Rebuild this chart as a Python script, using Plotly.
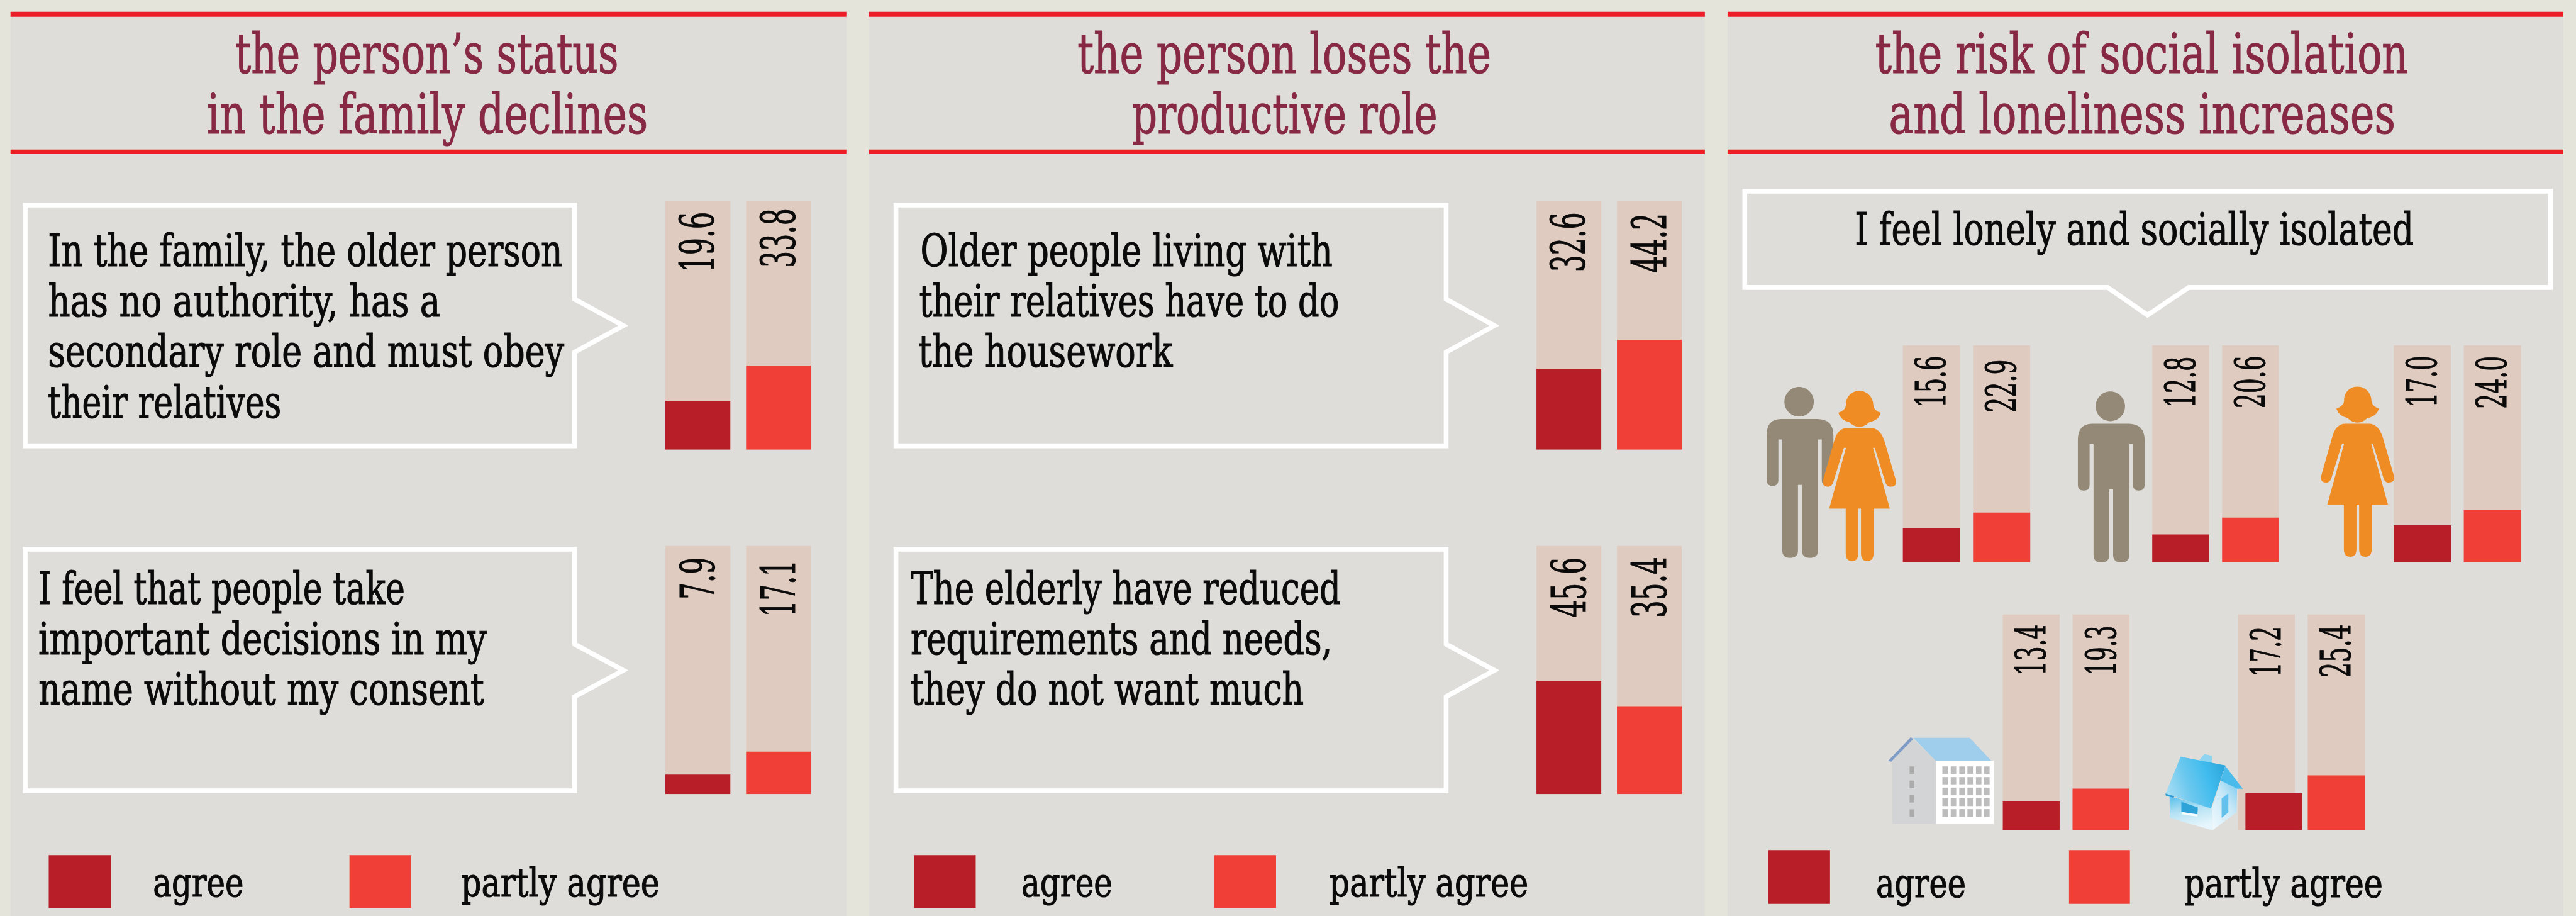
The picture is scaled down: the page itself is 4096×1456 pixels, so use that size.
import base64
import json
import re

import plotly.graph_objects as go

# ---- survey values, percent of respondents ----
categories = ["agree", "partly agree"]
status_authority = [19.6, 33.8]
status_decisions = [7.9, 17.1]
role_housework = [32.6, 44.2]
role_needs = [45.6, 35.4]
lonely_all = [15.6, 22.9]
lonely_men = [12.8, 20.6]
lonely_women = [17.0, 24.0]
lonely_flats = [13.4, 19.3]
lonely_houses = [17.2, 25.4]
scale_max = 100

panel_titles = [
    ["the person’s status", "in the family declines"],
    ["the person loses the", "productive role"],
    ["the risk of social isolation", "and loneliness increases"],
]

# ---- page geometry, in design units of a 6133 x 2180 artboard ----
W, H = 6133.0, 2180.0
WIN_W, WIN_H = 4096, 1456
S = WIN_W / W

OUTER = "#E4E4DB"
PANEL = "#DEDDD9"
RED_RULE = "#EE1C27"
TRACK = "#E0CBC0"
DARK = "#B81E27"
LIGHT = "#F03F37"
TITLE = "#872845"
INK = "#0A0A0A"
MAN = "#948977"
WOMAN = "#F08C24"
FONT = "DejaVu Serif Condensed, DejaVu Serif, serif"
DESCENT = 0.285


def fx(x):
    return x / W


def fy(y):
    return 1 - y / H


shapes = []
annotations = []
text_lengths = []


def rect(x0, y0, x1, y1, color, layer="below"):
    shapes.append(dict(type="rect", xref="paper", yref="paper", x0=fx(x0), x1=fx(x1),
                       y0=fy(y0), y1=fy(y1), fillcolor=color, line_width=0, layer=layer))


def poly(points, fill=None, line=None, width=0, layer="below"):
    d = "M" + " L".join(f"{fx(x):.6f},{fy(y):.6f}" for x, y in points) + " Z"
    shapes.append(dict(type="path", xref="paper", yref="paper", path=d,
                       fillcolor=fill if fill else "rgba(0,0,0,0)",
                       line=dict(color=line if line else "rgba(0,0,0,0)", width=width),
                       layer=layer))


def glyph(d, ox, oy, color, k=1 / 3):
    """Place an outline drawn in local units at design position (ox, oy)."""
    def conv(m):
        return f"{fx(ox + float(m[1]) * k):.6f},{fy(oy + float(m[2]) * k):.6f}"
    shapes.append(dict(type="path", xref="paper", yref="paper",
                       path=re.sub(r"(-?\d+(?:\.\d+)?),(-?\d+(?:\.\d+)?)", conv, d),
                       fillcolor=color, line_width=0, layer="above"))


def line_text(text, x0, x1, baseline, size, color=INK):
    """One line of text fitted between x0 and x1 with its baseline at the given height."""
    annotations.append(dict(
        text=text, xref="paper", yref="paper", x=fx((x0 + x1) / 2),
        y=fy(baseline + DESCENT * size / S), xanchor="center", yanchor="bottom",
        align="center", showarrow=False, borderpad=0, borderwidth=0,
        font=dict(family=FONT, size=size, color=color)))
    text_lengths.append((x1 - x0) * S)


# ---- panels, rules and headings ----
panel_spans = [(25, 2015), (2069, 4059), (4113, 6103)]
heading_spans = [
    [(560, 1473), (493, 1543)],
    [(2565, 3550), (2695, 3422)],
    [(4465, 5734), (4497, 5703)],
]
for (x0, x1), lines, spans in zip(panel_spans, panel_titles, heading_spans):
    rect(x0, 28, x1, H, PANEL)
    rect(x0, 28, x1, 40, RED_RULE)
    rect(x0, 356, x1, 367, RED_RULE)
    for text, (a, b), base in zip(lines, spans, (167, 311)):
        line_text(text, a, b, base, 88, TITLE)


# ---- speech bubbles ----
def bubble_right(x0, x1, tip, y0, y1, n0, n1):
    nm = (n0 + n1) / 2
    poly([(x0, y0), (x1, y0), (x1, n0), (tip, nm), (x1, n1), (x1, y1), (x0, y1)],
         line="#FFFFFF", width=7.6)


bubble_right(60, 1368, 1484, 488, 1061, 712, 838)
bubble_right(60, 1368, 1484, 1307, 1882, 1533, 1658)
bubble_right(2133, 3443, 3558, 488, 1061, 712, 838)
bubble_right(2133, 3443, 3558, 1307, 1882, 1533, 1658)
poly([(4154, 455), (6072, 455), (6072, 684), (5211, 684), (5113, 750), (5018, 684), (4154, 684)],
     line="#FFFFFF", width=7.6)

bubble_lines = [
    ("In the family, the older person", 114, 1339, 628),
    ("has no authority, has a", 114, 1048, 748),
    ("secondary role and must obey", 114, 1343, 868),
    ("their relatives", 114, 670, 989),
    ("I feel that people take", 91, 964, 1432),
    ("important decisions in my", 91, 1158, 1552),
    ("name without my consent", 91, 1152, 1672),
    ("Older people living with", 2191, 3172, 628),
    ("their relatives have to do", 2188, 3188, 748),
    ("the housework", 2188, 2793, 868),
    ("The elderly have reduced", 2168, 3192, 1432),
    ("requirements and needs,", 2168, 3172, 1552),
    ("they do not want much", 2168, 3105, 1672),
    ("I feel lonely and socially isolated", 4416, 5747, 578),
]
for text, a, b, base in bubble_lines:
    line_text(text, a, b, base, 71)

# ---- keys ----
key_rows = [
    (2035, 2161, 2129, (116, 264, 364, 580), (832, 979, 1098, 1571)),
    (2035, 2161, 2129, (2176, 2323, 2432, 2649), (2891, 3038, 3165, 3639)),
    (2023, 2151, 2130, (4210, 4357, 4467, 4681), (4926, 5071, 5200, 5673)),
]
for y0, y1, base, first, second in key_rows:
    for (a, b, ta, tb), color, label in zip((first, second), (DARK, LIGHT), categories):
        rect(a, y0, b, y1, color)
        line_text(label, ta, tb, base, 64)

# ---- pictograms ----
MAN_BODY = ("M150,292 L410,292 Q525,292 525,410 L525,730 Q525,770 483,770 Q442,770 442,730 "
            "L442,437 L415,437 L415,1230 Q415,1283 358,1283 Q300,1283 300,1230 L300,762 L272,762 "
            "L272,1230 Q272,1283 215,1283 Q160,1283 160,1230 L160,437 L132,437 L132,730 "
            "Q132,770 90,770 Q48,770 48,730 L48,410 Q48,292 150,292 Z")
MAN_HEAD = ("M175,168 C175,110 222,62 280,62 C338,62 385,110 385,168 "
            "C385,226 338,274 280,274 C222,274 175,226 175,168 Z")
WOMAN_BODY = ("M625,355 L790,355 Q860,355 890,450 L970,725 Q985,775 930,775 Q905,775 895,740 "
              "L820,497 L808,497 L928,932 L812,932 L812,1250 Q812,1305 765,1305 Q722,1305 722,1250 "
              "L722,932 L703,932 L703,1250 Q703,1305 658,1305 Q613,1305 613,1250 L613,932 L495,932 "
              "L615,497 L600,497 L525,740 Q515,775 488,775 Q440,775 452,725 L530,450 Q555,355 625,355 Z")
WOMAN_HAIR = ("M710,90 C770,90 810,140 810,190 Q812,230 863,247 Q850,300 780,315 Q750,347 710,347 "
              "Q670,347 640,315 Q575,300 560,247 Q612,230 615,190 C612,140 650,90 710,90 Z")


def man(dx, dy):
    glyph(MAN_BODY, 4190 + dx, 900 + dy, MAN)
    glyph(MAN_HEAD, 4190 + dx, 900 + dy, MAN)


def woman(dx, dy):
    glyph(WOMAN_BODY, 4190 + dx, 900 + dy, WOMAN)
    glyph(WOMAN_HAIR, 4190 + dx, 900 + dy, WOMAN)


man(0, 0)
woman(0, 0)
man(741, 11)
woman(1186, -10)


# ---- apartment block ----
def bx(z):
    return 4480 + z / 2.063


def by(z):
    return 1720 + z / 3


poly([(bx(52), by(275)), (bx(150), by(112)), (bx(267), by(272)), (bx(267), by(722)), (bx(52), by(722))],
     fill="#D3D4D6", layer="above")
poly([(bx(155), by(108)), (bx(432), by(108)), (bx(538), by(270)), (bx(265), by(270))],
     fill="#9FCDEC", layer="above")
poly([(bx(32), by(272)), (bx(142), by(104)), (bx(156), by(114)), (bx(46), by(280))],
     fill="#7F9CC6", layer="above")
rect(bx(267), by(272), bx(550), by(722), "#FFFFFF", "above")
for row_top, row_bottom in [(312, 365), (388, 440), (463, 518), (540, 595), (617, 672)]:
    for col in (298, 339, 381, 421, 463, 503):
        rect(bx(col), by(row_top), bx(col + 27), by(row_bottom), "#BDBDBD", "above")
for row_top, row_bottom in [(312, 365), (413, 468), (518, 570), (618, 672)]:
    rect(bx(137), by(row_top), bx(160), by(row_bottom), "#ABABAB", "above")

# ---- detached house, vector artwork with gradient fills ----
HOUSE_SVG = """<svg xmlns="http://www.w3.org/2000/svg" width="720" height="690" viewBox="0 0 720 690">
<defs>
<linearGradient id="r" x1="0" y1="0.6" x2="1" y2="0.3"><stop offset="0" stop-color="#A6DDF3"/><stop offset="0.35" stop-color="#6CC8EE"/><stop offset="0.7" stop-color="#41BCEE"/><stop offset="1" stop-color="#2FA6DC"/></linearGradient>
<linearGradient id="f" x1="0" y1="0" x2="0.3" y2="1"><stop offset="0" stop-color="#55BEEB"/><stop offset="0.5" stop-color="#B6E2F4"/><stop offset="1" stop-color="#E6F6FC"/></linearGradient>
<linearGradient id="s" x1="0" y1="1" x2="0.6" y2="0"><stop offset="0" stop-color="#F2FAFE"/><stop offset="0.6" stop-color="#C8E8F7"/><stop offset="1" stop-color="#7CCBEE"/></linearGradient>
</defs>
<polygon points="320,115 355,72 408,88 410,140 340,128" fill="#8FD5F1"/>
<polygon points="106,375 410,455 412,618 108,530" fill="url(#f)"/>
<polygon points="410,455 505,165 588,320 585,490 412,618" fill="url(#s)"/>
<polygon points="505,160 630,322 590,322 470,262" fill="#4ABBEA"/>
<polygon points="185,92 505,155 402,462 78,358" fill="url(#r)"/>
<polygon points="76,355 140,375 135,385 80,372" fill="#2E9DD2"/>
<polygon points="190,415 308,455 305,505 190,488" fill="#2DA3D8"/>
<polygon points="195,488 305,505 305,520 195,505" fill="#F5FBFE"/>
<polygon points="478,390 526,355 526,490 478,530" fill="#62C2EC"/>
</svg>"""
images = [dict(
    source="data:image/svg+xml;base64," + base64.b64encode(HOUSE_SVG.encode()).decode(),
    xref="paper", yref="paper", x=fx(5130), y=fy(1770), sizex=240 / W, sizey=230 / H,
    xanchor="left", yanchor="top", sizing="stretch", layer="above")]

# ---- bar groups: each one owns a small pair of axes placed on the artboard ----
# (values, left, right, top, bottom, bar width, sideways nudge of the agree bar,
#  per-bar label gap from the track top, per-bar label length, label font size)
groups = [
    (status_authority, 1584, 1931, 479, 1070, 0.805, 0, (26, 17), (144, 142), 74),
    (status_decisions, 1584, 1931, 1299, 1890, 0.805, 0, (28, 34), (100, 135), 74),
    (role_housework, 3658, 4004, 479, 1070, 0.805, 0, (27, 29), (142, 142), 74),
    (role_needs, 3658, 4004, 1299, 1890, 0.805, 0, (28, 27), (143, 145), 74),
    (lonely_all, 4530, 4834, 822, 1338, 0.815, 0, (25, 34), (123, 126), 66),
    (lonely_men, 5124, 5426, 822, 1338, 0.815, 0, (26, 25), (122, 126), 66),
    (lonely_women, 5699, 6002, 822, 1338, 0.815, 0, (25, 25), (123, 126), 66),
    (lonely_flats, 4768, 5070, 1462, 1976, 0.815, 0, (25, 27), (121, 119), 66),
    (lonely_houses, 5328, 5630, 1462, 1976, 0.815, 0.108, (30, 24), (119, 127), 66),
]

fig = go.Figure()
layout_axes = {}
for i, (values, left, right, top, bottom, bar_w, nudge, gaps, lengths, fs) in enumerate(groups, 1):
    xa, ya = f"x{i}", f"y{i}"
    fig.add_trace(go.Bar(x=[0, 1], y=[scale_max, scale_max], width=bar_w, xaxis=xa, yaxis=ya,
                         marker=dict(color=TRACK, line_width=0), hoverinfo="skip", showlegend=False))
    for j, (value, color, name) in enumerate(zip(values, (DARK, LIGHT), categories)):
        fig.add_trace(go.Bar(x=[j + (nudge if j == 0 else 0)], y=[value], width=bar_w, name=name,
                             xaxis=xa, yaxis=ya, marker=dict(color=color, line_width=0),
                             showlegend=False))
        centre = scale_max * (1 - (gaps[j] + lengths[j] / 2) / (bottom - top))
        annotations.append(dict(
            text=f"{value:.1f}", xref=xa, yref=ya, x=j, y=centre, textangle=-90,
            xanchor="center", yanchor="middle", align="center", showarrow=False,
            borderpad=0, borderwidth=0, font=dict(family=FONT, size=fs, color=INK)))
        text_lengths.append(lengths[j] * S)
    axis_common = dict(visible=False, fixedrange=True)
    layout_axes[f"xaxis{i}"] = dict(axis_common, domain=[fx(left), fx(right)], anchor=ya,
                                    range=[-bar_w / 2, 1 + bar_w / 2])
    layout_axes[f"yaxis{i}"] = dict(axis_common, domain=[fy(bottom), fy(top)], anchor=xa,
                                    range=[0, scale_max])

fig.update_layout(
    width=WIN_W, height=WIN_H, autosize=False,
    margin=dict(l=0, r=0, t=0, b=0), paper_bgcolor=OUTER, plot_bgcolor="rgba(0,0,0,0)",
    barmode="overlay", showlegend=False, shapes=shapes, annotations=annotations, images=images,
    **layout_axes)

# The typeface is a condensed slab: set each line to its own running length and
# thicken the stems a little to keep the colour of the text after condensing.
FIT_TEXT = """
var gd = document.getElementById('{plot_id}');
var lengths = %s;
function fit() {
  gd.querySelectorAll('.annotation').forEach(function (g) {
    var t = g.querySelector('text.annotation-text');
    var n = lengths[+g.getAttribute('data-index')];
    if (t && n) {
      t.setAttribute('textLength', n.toFixed(1));
      t.setAttribute('lengthAdjust', 'spacingAndGlyphs');
      t.style.stroke = t.style.fill;
      t.style.strokeWidth = '1.1px';
    }
  });
}
fit();
gd.on('plotly_afterplot', fit);
setTimeout(fit, 200);
""" % json.dumps(text_lengths)

fig.write_html("out.html", config=dict(displayModeBar=False, staticPlot=True), post_script=FIT_TEXT)
